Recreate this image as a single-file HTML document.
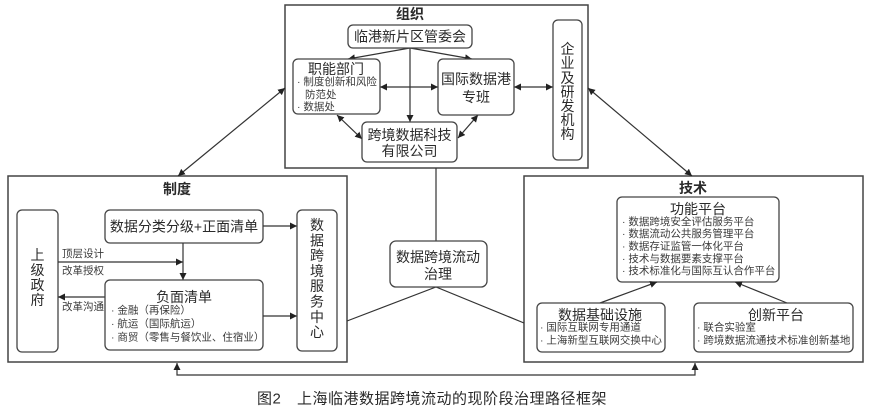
<!DOCTYPE html>
<html><head><meta charset="utf-8"><style>
html,body{margin:0;padding:0;background:#fff;}
svg{display:block;}
text{font-family:"Liberation Sans","Noto Sans CJK SC",sans-serif;fill:#2a2a2a;}
.t{font-size:14px;text-anchor:middle;dominant-baseline:central;}
.b{font-size:14px;font-weight:bold;text-anchor:middle;dominant-baseline:central;}
.s{font-size:10.5px;dominant-baseline:central;fill:#3a3a3a;}
.cap{font-size:15px;text-anchor:middle;dominant-baseline:central;letter-spacing:0.5px;}
.ob{fill:none;stroke:#444;stroke-width:1.5;}
.rb{fill:#fff;stroke:#444;stroke-width:1.3;}
.ln{fill:none;stroke:#333;stroke-width:1.2;}
</style></head><body>
<svg width="869" height="411" viewBox="0 0 869 411" xmlns="http://www.w3.org/2000/svg">
<defs>
<marker id="ah" viewBox="0 0 10 10" refX="10" refY="5" markerWidth="7" markerHeight="7" markerUnits="userSpaceOnUse" orient="auto-start-reverse">
<path d="M0,0 L10,5 L0,10 z" fill="#222"/>
</marker>
</defs>

<!-- outer boxes -->
<rect class="ob" x="285" y="5" width="303" height="163"/>
<rect class="ob" x="8" y="176" width="339" height="186"/>
<rect class="ob" x="524" y="176" width="339" height="186"/>

<!-- outer connectors -->
<line class="ln" x1="285" y1="88" x2="178" y2="176" marker-start="url(#ah)" marker-end="url(#ah)"/>
<line class="ln" x1="588" y1="88" x2="692" y2="176" marker-start="url(#ah)" marker-end="url(#ah)"/>
<path class="ln" d="M177,363 V375 H695 V363" marker-start="url(#ah)" marker-end="url(#ah)"/>
<line class="ln" x1="436" y1="168" x2="436" y2="241"/>
<polyline class="ln" points="347,321 436,287 524,323"/>

<!-- center box -->
<rect class="rb" x="390" y="241" width="97" height="46" rx="6"/>
<text class="t" x="438" y="257">数据跨境流动</text>
<text class="t" x="438" y="274">治理</text>

<!-- ===== 组织 ===== -->
<text class="b" x="410" y="14">组织</text>
<!-- arrows inside top -->
<line class="ln" x1="410" y1="48" x2="348" y2="59" marker-end="url(#ah)"/>
<line class="ln" x1="410" y1="48" x2="472" y2="59" marker-end="url(#ah)"/>
<line class="ln" x1="410" y1="48" x2="410" y2="122" marker-end="url(#ah)"/>
<line class="ln" x1="380" y1="87" x2="438" y2="87" marker-start="url(#ah)" marker-end="url(#ah)"/>
<line class="ln" x1="337" y1="115" x2="362" y2="139" marker-start="url(#ah)" marker-end="url(#ah)"/>
<line class="ln" x1="478" y1="115" x2="458" y2="138" marker-start="url(#ah)" marker-end="url(#ah)"/>
<line class="ln" x1="514" y1="87" x2="553" y2="87" marker-start="url(#ah)" marker-end="url(#ah)"/>

<rect class="rb" x="348" y="25" width="124" height="23" rx="5"/>
<text class="t" x="410" y="36.5">临港新片区管委会</text>

<rect class="rb" x="293" y="59" width="87" height="55" rx="5"/>
<text class="t" x="336" y="69">职能部门</text>
<text class="s" x="297" y="82">· 制度创新和风险</text>
<text class="s" x="305" y="95">防范处</text>
<text class="s" x="297" y="107">· 数据处</text>

<rect class="rb" x="438" y="59" width="76" height="56" rx="5"/>
<text class="t" x="476" y="79">国际数据港</text>
<text class="t" x="476" y="97">专班</text>

<rect class="rb" x="362" y="122" width="95" height="40" rx="5"/>
<text class="t" x="409.5" y="135">跨境数据科技</text>
<text class="t" x="409.5" y="151">有限公司</text>

<rect class="rb" x="553" y="20" width="29" height="140" rx="5"/>
<text class="t" x="567.5" y="49">企</text>
<text class="t" x="567.5" y="63">业</text>
<text class="t" x="567.5" y="78">及</text>
<text class="t" x="567.5" y="92">研</text>
<text class="t" x="567.5" y="106">发</text>
<text class="t" x="567.5" y="120">机</text>
<text class="t" x="567.5" y="134">构</text>

<!-- ===== 制度 ===== -->
<text class="b" x="177" y="189">制度</text>

<rect class="rb" x="17" y="210" width="41" height="142" rx="5"/>
<text class="t" x="37.5" y="255">上</text>
<text class="t" x="37.5" y="270">级</text>
<text class="t" x="37.5" y="285">政</text>
<text class="t" x="37.5" y="300">府</text>

<rect class="rb" x="105" y="210" width="158" height="33" rx="5"/>
<text class="t" x="184" y="226.5">数据分类分级+正面清单</text>

<line class="ln" x1="183" y1="243" x2="183" y2="280" marker-end="url(#ah)"/>
<line class="ln" x1="58" y1="262" x2="183" y2="262" marker-end="url(#ah)"/>
<text class="s" x="62" y="254">顶层设计</text>
<text class="s" x="62" y="271">改革授权</text>
<line class="ln" x1="105" y1="297" x2="58" y2="297" marker-end="url(#ah)"/>
<text class="s" x="62" y="307">改革沟通</text>

<rect class="rb" x="105" y="280" width="158" height="70" rx="5"/>
<text class="t" x="184" y="297">负面清单</text>
<text class="s" x="111" y="310.5">· 金融（再保险）</text>
<text class="s" x="111" y="324">· 航运（国际航运）</text>
<text class="s" x="111" y="337.5">· 商贸（零售与餐饮业、住宿业）</text>

<line class="ln" x1="263" y1="226" x2="297" y2="226" marker-end="url(#ah)"/>
<line class="ln" x1="263" y1="316" x2="297" y2="316" marker-end="url(#ah)"/>

<rect class="rb" x="297" y="210" width="40" height="141" rx="5"/>
<text class="t" x="317" y="225">数</text>
<text class="t" x="317" y="240.3">据</text>
<text class="t" x="317" y="255.6">跨</text>
<text class="t" x="317" y="270.9">境</text>
<text class="t" x="317" y="286.2">服</text>
<text class="t" x="317" y="301.5">务</text>
<text class="t" x="317" y="316.8">中</text>
<text class="t" x="317" y="332">心</text>

<!-- ===== 技术 ===== -->
<text class="b" x="693" y="188">技术</text>

<rect class="rb" x="617" y="197" width="162" height="85" rx="5"/>
<text class="t" x="698" y="209">功能平台</text>
<text class="s" x="622" y="222">· 数据跨境安全评估服务平台</text>
<text class="s" x="622" y="234">· 数据流动公共服务管理平台</text>
<text class="s" x="622" y="246.5">· 数据存证监管一体化平台</text>
<text class="s" x="622" y="259">· 技术与数据要素支撑平台</text>
<text class="s" x="622" y="271">· 技术标准化与国际互认合作平台</text>

<line class="ln" x1="600" y1="303" x2="657" y2="282" marker-end="url(#ah)"/>
<line class="ln" x1="787" y1="303" x2="735" y2="282" marker-end="url(#ah)"/>

<rect class="rb" x="537" y="303" width="128" height="49" rx="5"/>
<text class="t" x="600" y="315">数据基础设施</text>
<text class="s" x="540" y="327.5">· 国际互联网专用通道</text>
<text class="s" x="540" y="340.5">· 上海新型互联网交换中心</text>

<rect class="rb" x="694" y="303" width="159" height="49" rx="5"/>
<text class="t" x="776" y="315">创新平台</text>
<text class="s" x="697" y="327.5">· 联合实验室</text>
<text class="s" x="697" y="340.5">· 跨境数据流通技术标准创新基地</text>

<!-- caption -->
<text class="cap" x="257" y="399" style="text-anchor:start">图2</text>
<text class="cap" x="452" y="399">上海临港数据跨境流动的现阶段治理路径框架</text>
</svg>
</body></html>
